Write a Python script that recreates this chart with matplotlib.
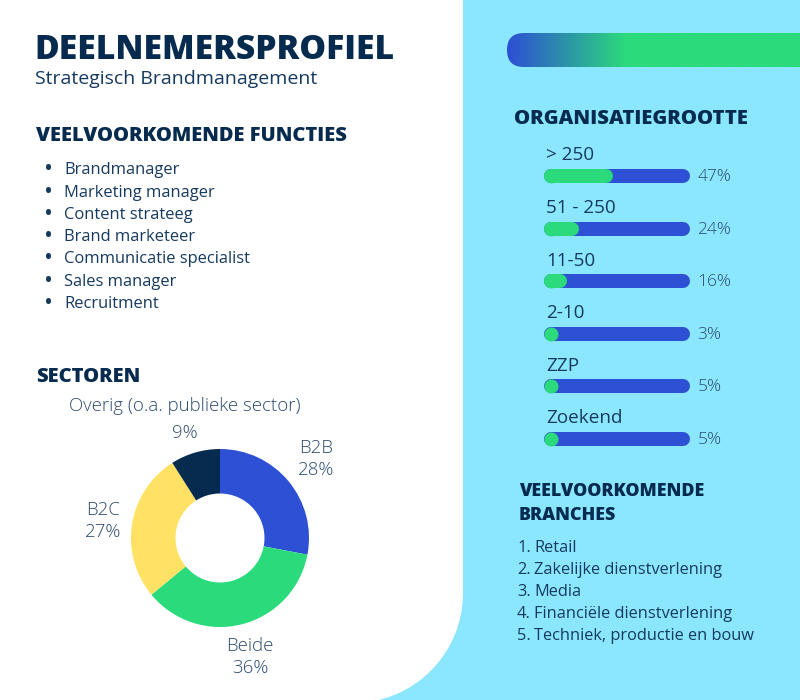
import numpy as np
import matplotlib
matplotlib.use("Agg")
import matplotlib.pyplot as plt
from matplotlib.patches import FancyBboxPatch, PathPatch
from matplotlib.path import Path
from matplotlib.colors import LinearSegmentedColormap

plt.rcParams['font.family'] = ['Open Sans', 'DejaVu Sans']

# ---- data ----
functies = ["Brandmanager", "Marketing manager", "Content strateeg", "Brand marketeer",
            "Communicatie specialist", "Sales manager", "Recruitment"]
grootte_labels = ["> 250", "51 - 250", "11-50", "2-10", "ZZP", "Zoekend"]
grootte_pct = [47, 24, 16, 3, 5, 5]
sector_labels = ["B2B", "Beide", "B2C", "Overig (o.a. publieke sector)"]
sector_pct = [28, 36, 27, 9]
branches = ["Retail", "Zakelijke dienstverlening", "Media",
            "Financiële dienstverlening", "Techniek, productie en bouw"]

NAVY = "#062B4F"
TEXT = "#163A5F"
SOFT = "#2C4B6E"
CYAN = "#8BE6FF"
BLUE = "#2D50D4"
GREEN = "#2BDB7B"
YELLOW = "#FFE164"

W, H = 800, 700
fig = plt.figure(figsize=(8, 7), dpi=100)
fig.patch.set_facecolor(CYAN)

# background axes in pixel coordinates (y down)
bg = fig.add_axes([0, 0, 1, 1])
bg.set_xlim(0, W)
bg.set_ylim(H, 0)
bg.axis("off")

# white panel with rounded bottom-right corner
r = 110
x1, y1 = 463, 703
k = 0.5523
verts = [(0, 0), (x1, 0), (x1, y1 - r),
         (x1, y1 - r + k * r), (x1 - r + k * r, y1), (x1 - r, y1),
         (0, y1), (0, 0)]
codes = [Path.MOVETO, Path.LINETO, Path.LINETO,
         Path.CURVE4, Path.CURVE4, Path.CURVE4,
         Path.LINETO, Path.CLOSEPOLY]
bg.add_patch(PathPatch(Path(verts, codes), facecolor="white", edgecolor="none"))

# gradient pill top right
grad = LinearSegmentedColormap.from_list("g", [(0, BLUE), (0.32, GREEN), (1, GREEN)])
im = bg.imshow(np.linspace(0, 1, 300).reshape(1, -1), cmap=grad, aspect="auto",
               extent=(507, 880, 67, 33), zorder=2)
pill = FancyBboxPatch((507, 33), 373, 34, boxstyle="round,pad=0,rounding_size=17",
                      facecolor="none", edgecolor="none", transform=bg.transData)
bg.add_patch(pill)
im.set_clip_path(pill)

# ---- left column texts ----
bg.text(34, 50, "DEELNEMERSPROFIEL", fontsize=24.2, fontweight="heavy", color=NAVY, va="center")
bg.text(35, 79, "Strategisch Brandmanagement", fontsize=14, color=TEXT, va="center")
bg.text(36, 136, "VEELVOORKOMENDE FUNCTIES", fontsize=14.5, fontweight="heavy", color=NAVY, va="center")
for i, f in enumerate(functies):
    y = 170.5 + i * 22.2
    bg.text(48, y, "•", fontsize=17, color=TEXT, va="center", ha="center")
    bg.text(64, y, f, fontsize=11.9, color=TEXT, va="center")
bg.text(36, 377, "SECTOREN", fontsize=14.5, fontweight="heavy", color=NAVY, va="center")

# ---- donut ----
cx, cy, R = 220, 538, 89
dax = fig.add_axes([(cx - R) / W, 1 - (cy + R) / H, 2 * R / W, 2 * R / H])
dax.pie(sector_pct, colors=[BLUE, GREEN, YELLOW, NAVY], startangle=90, counterclock=False,
        radius=1, wedgeprops=dict(width=0.5, edgecolor="none"))
dax.set_xlim(-1, 1)
dax.set_ylim(-1, 1)
dax.set_aspect("equal")

# label name y, gap to percent line
lab_pos = [(316, 448), (250, 646), (103, 510), (185, 406)]
gap = [22, 22, 22, 27]
for (lx, ly), g, lab, p in zip(lab_pos, gap, sector_labels, sector_pct):
    bg.text(lx, ly, lab, fontsize=13.4, color=SOFT, ha="center", va="center",
            fontweight="light")
    bg.text(lx, ly + g, f"{p}%", fontsize=13.4, color=SOFT, ha="center", va="center",
            fontweight="light")

# ---- organisatiegrootte ----
bg.text(514, 119, "ORGANISATIEGROOTTE", fontsize=14.6, fontweight="heavy", color=NAVY, va="center")

bx0, bx1 = 544, 690
cap = 7
n = len(grootte_pct)
top, bot = 176 - 26.29, 438.7 + 26.29
bax = fig.add_axes([bx0 / W, 1 - bot / H, (bx1 - bx0) / W, (bot - top) / H])
span = (bx1 - bx0) - 2 * cap
rd = cap / span * 100
bax.set_xlim(-rd, 100 + rd)
bax.set_ylim(n - 0.5, -0.5)
bax.axis("off")
lw = 2 * cap * 0.72
for i, (lab, v) in enumerate(zip(grootte_labels, grootte_pct)):
    bax.plot([0, 100], [i, i], color=BLUE, lw=lw, solid_capstyle="round")
    g = max(0, (v / 100 * (bx1 - bx0) - 2 * cap) / span * 100)
    bax.plot([0, g], [i, i], color=GREEN, lw=lw, solid_capstyle="round",
             marker="o", markersize=lw, markevery=[0], markeredgewidth=0)
    bax.text(-rd + 2 / span * 100, i - 0.39, lab, fontsize=13.6, color=TEXT, va="center", ha="left")
    bax.text(100 + rd + 7.5 / span * 100, i + 0.02, f"{v}%", fontsize=12.5, color=SOFT,
             va="center", ha="left", clip_on=False, fontweight="light")

# ---- branches ----
bg.text(519, 492, "VEELVOORKOMENDE", fontsize=12.9, fontweight="heavy", color=NAVY, va="center")
bg.text(519, 516, "BRANCHES", fontsize=12.9, fontweight="heavy", color=NAVY, va="center")
for i, b in enumerate(branches):
    y = 548 + i * 22
    bg.text(517, y, f"{i + 1}.", fontsize=11.8, color=TEXT, va="center")
    bg.text(534, y, b, fontsize=11.8, color=TEXT, va="center")

fig.savefig("out.png", dpi=100, facecolor=fig.get_facecolor())
